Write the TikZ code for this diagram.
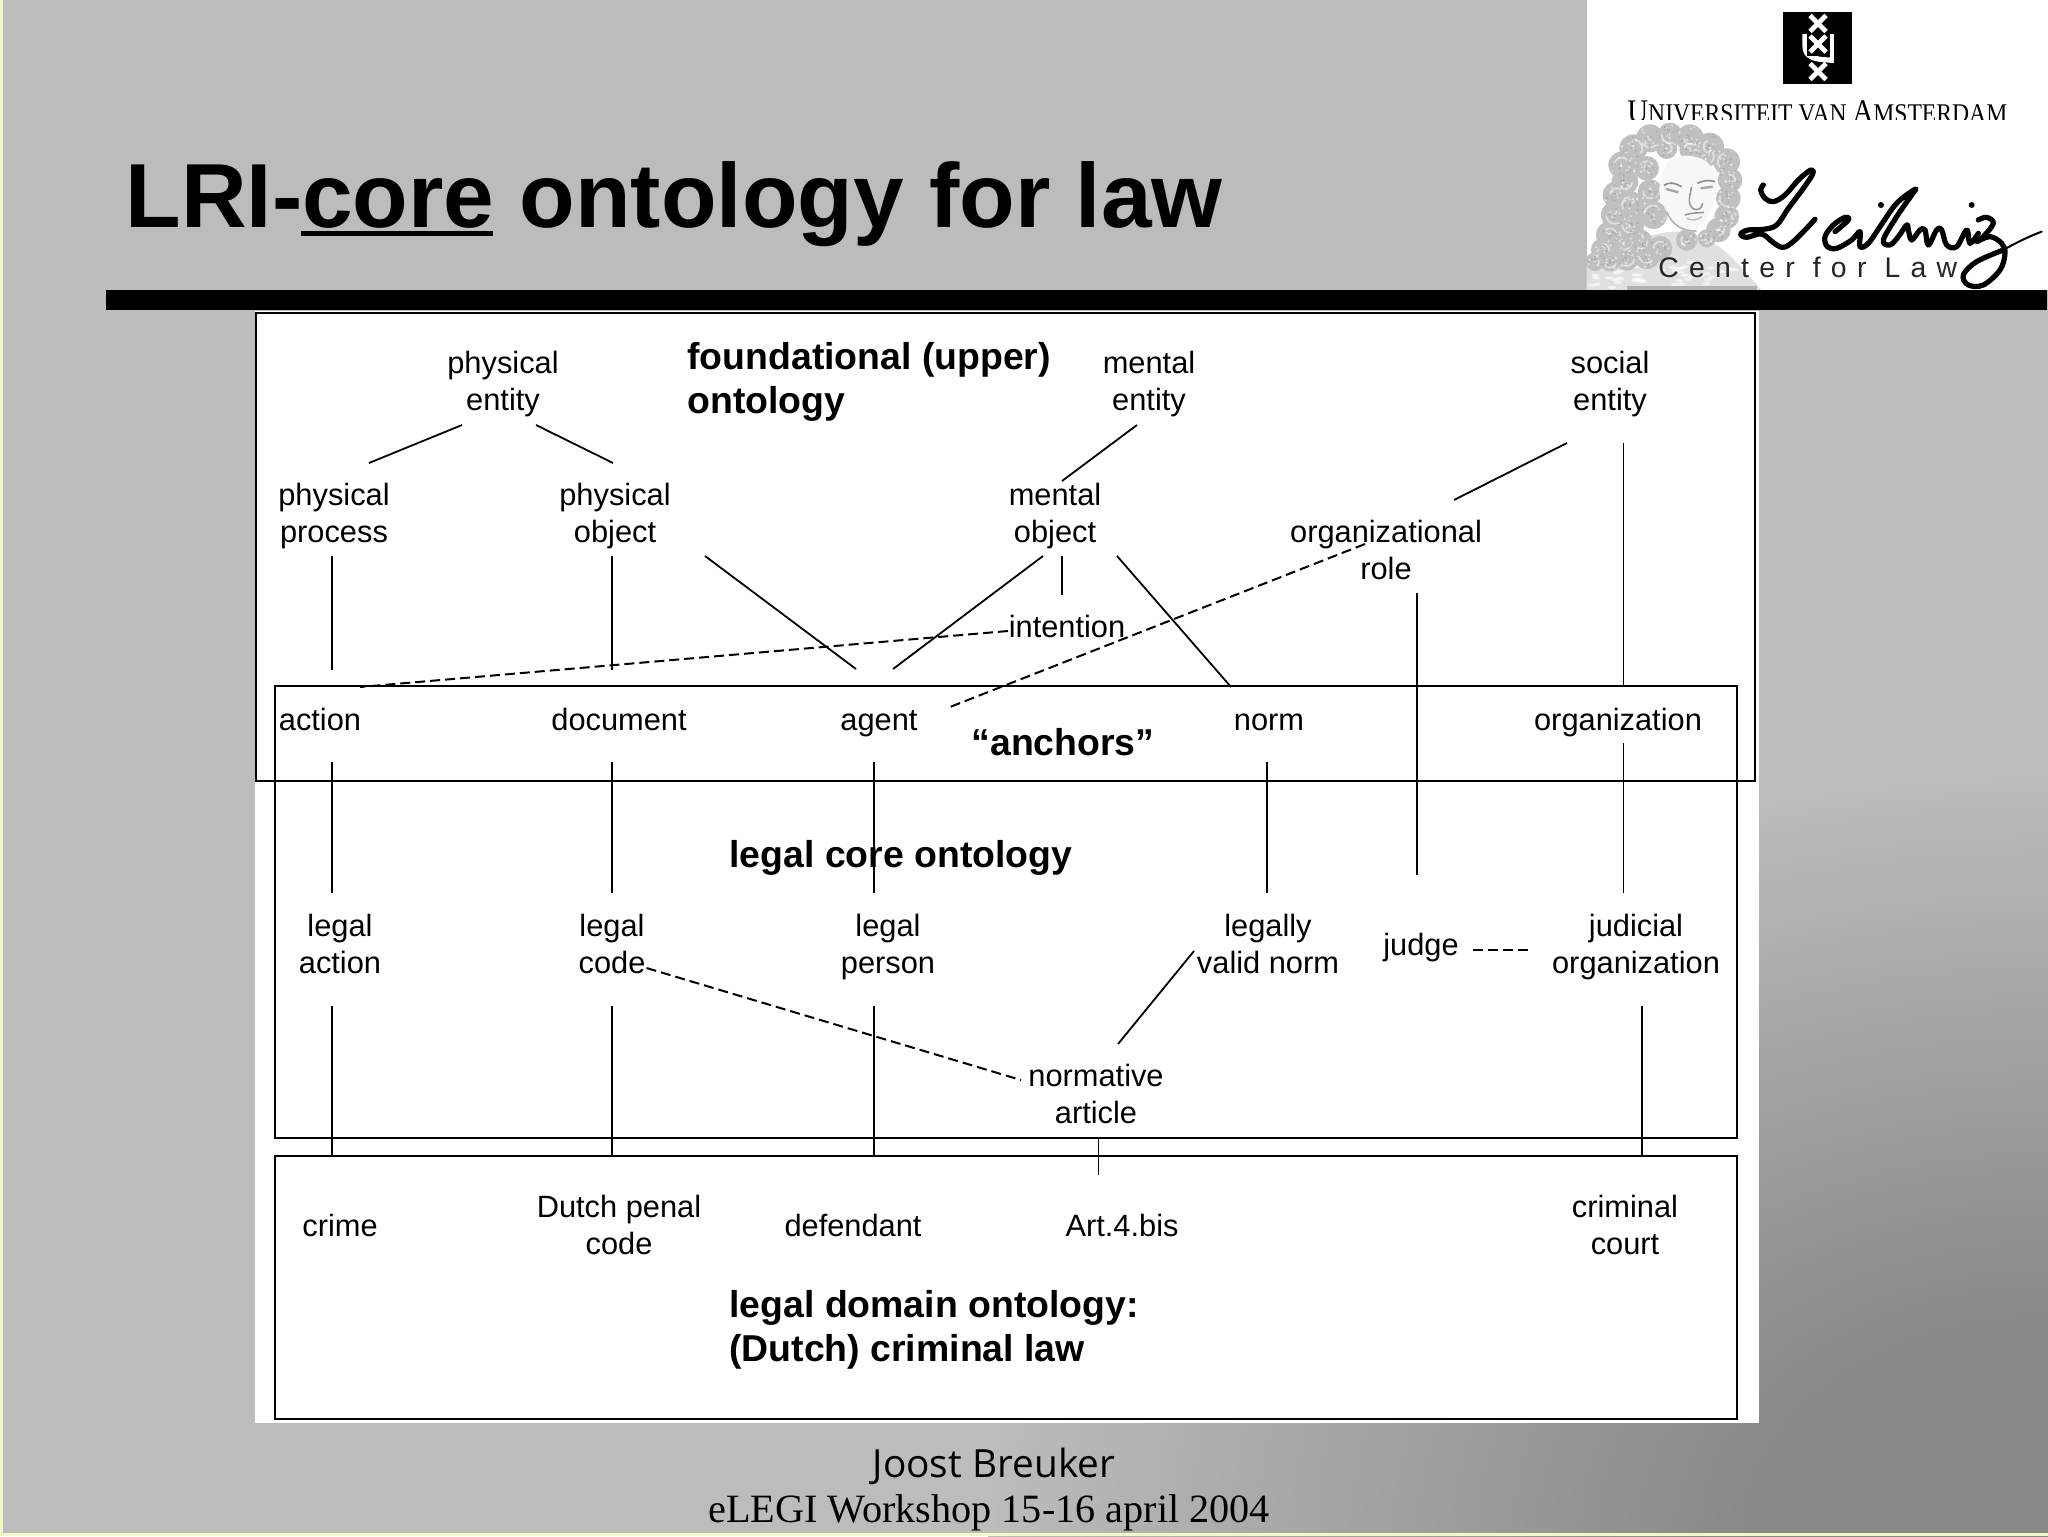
\documentclass[tikz,border=0pt]{standalone}
\usepackage{fontspec}
\setmainfont{Liberation Sans}
\newfontfamily\serifface{Liberation Serif}
\newfontfamily\footface{Open Sans}
\newfontfamily\centerface[LetterSpace=36]{Liberation Sans}
\definecolor{slidegray}{HTML}{BCBCBC}
\definecolor{slidedark}{HTML}{888888}
\definecolor{edgeyellow}{HTML}{F4F8C8}
\definecolor{wiggray}{HTML}{C0C0C0}
\pgfdeclareradialshading{slidecorner}{\pgfpoint{0bp}{0bp}}{color(0bp)=(slidedark); color(7bp)=(slidedark); color(25bp)=(slidegray); color(50bp)=(slidegray)}
\newcommand{\hd}{\rule{0pt}{15pt}}
\tikzset{
  lab/.style={font=\fontsize{15.4}{18.8}\selectfont, align=center, inner sep=0pt,
    execute at begin node={\rule[-4pt]{0pt}{19pt}}, execute at end node={\rule[-4pt]{0pt}{4pt}}},
  boldlab/.style={font=\bfseries\fontsize{18.7}{22}\selectfont, align=left, inner sep=0pt, anchor=west},
  boxline/.style={draw=black, line width=1pt},
  conn/.style={draw=black, line width=0.9pt},
  dashconn/.style={draw=black, line width=1pt, dash pattern=on 5pt off 2.5pt},
  ink/.style={draw=black, line width=2.6pt, line cap=round, line join=round}
}
\begin{document}
\begin{tikzpicture}[x=0.5pt,y=-0.5pt]
\useasboundingbox (0,0) rectangle (2048,1536);
% background
\fill[slidegray] (0,0) rectangle (2048,1536);
\begin{scope}
  \clip (0,0) rectangle (2048,1536);
  \shade[shading=slidecorner] (2048,1536) ellipse (1060 and 760);
\end{scope}
\fill[edgeyellow] (0,0) rectangle (3,1536);
\fill[edgeyellow] (0,1533) rectangle (2048,1536);
% title
\node[anchor=base west, inner sep=0pt, font=\bfseries\fontsize{45.5}{56}\selectfont] (title) at (125,227.5) {LRI-core ontology for law};
\fill[black] (301,231) rectangle (493,236);
% logo panel
\fill[white] (1587,0) rectangle (2048,290);
\fill[black] (1783,12) rectangle (1852,84);
\draw[white, line width=2.6pt] (1805,34) -- (1805,46) .. controls (1805,56) and (1812,60) .. (1832,60);
\draw[white, line width=1.8pt] (1832,34) -- (1832,63);
\fill[black] (1807,33) rectangle (1830,56);
\foreach \cy in {23.5,44,71.5}{
  \draw[white, line width=2.4pt] (1810,\cy-8) -- (1826,\cy+8);
  \draw[white, line width=2.4pt] (1826,\cy-8) -- (1810,\cy+8);
}
\begin{scope}
  \clip (1600,90) rectangle (2040,119.5);
  \node[anchor=base west, inner sep=0pt, xscale=0.875, transform shape, font=\serifface\fontsize{16.5}{20}\selectfont] (uva) at (1627,122) {U\fontsize{13.5}{20}\selectfont NIVERSITEIT VAN \fontsize{16.5}{20}\selectfont A\fontsize{13.5}{20}\selectfont MSTERDAM};
\end{scope}
% portrait
\begin{scope}[shift={(1590,115)},scale=0.3333]
  \begin{scope}
    \clip (-10,0) rectangle (520,525);
    % body
    \fill[black!12] plot[smooth cycle,tension=.6] coordinates {(-10,440) (60,400) (250,350) (380,390) (510,520) (500,530) (-10,530)};
    \pgfmathsetseed{11}
    \foreach \k in {1,...,60}{
      \pgfmathsetmacro{\rx}{rnd*450}
      \pgfmathsetmacro{\ry}{440+rnd*85}
      \fill[white,opacity=.6] (\rx,\ry) ellipse (12 and 5);
    }
    \fill[black!30] (110,512) rectangle (500,525);
    % wig curls
    \pgfmathsetseed{7}
    \foreach \cx/\cy/\cr in {180/70/42,240/60/37,300/70/42,360/95/42,410/140/40,420/195/37,415/250/37,410/305/37,385/345/37,
      130/100/42,95/150/40,105/200/40,80/240/42,120/270/42,75/300/42,120/330/42,60/360/42,105/385/42,40/405/37,150/380/37,170/420/42,110/430/37,210/400/37,190/300/42,180/230/37,170/160/37,230/100/32,300/105/32,350/125/32,290/375/32,350/370/27,15/440/28,60/440/30}{
      \fill[wiggray] (\cx,\cy) circle (\cr);
    }
    \foreach \cx/\cy/\cr in {180/70/42,240/60/37,300/70/42,360/95/42,410/140/40,420/195/37,415/250/37,410/305/37,385/345/37,
      130/100/42,95/150/40,105/200/40,80/240/42,120/270/42,75/300/42,120/330/42,60/360/42,105/385/42,40/405/37,150/380/37,170/420/42,110/430/37,210/400/37,190/300/42,180/230/37,170/160/37,230/100/32,300/105/32,350/125/32,290/375/32,350/370/27,15/440/28,60/440/30}{
      \pgfmathsetmacro{\rd}{(0.4+0.3*rnd)*\cr}
      \pgfmathsetmacro{\ra}{rnd*360}
      \draw[white,opacity=.5,line width=.9pt,line cap=round] (\cx,\cy) ++(\ra:\rd) arc (\ra:\ra+110:\rd);
      \foreach \s in {1,...,9}{
        \pgfmathsetmacro{\pa}{rnd*360}
        \pgfmathsetmacro{\pr}{rnd*0.85*\cr}
        \fill[white,opacity=.55] (\cx,\cy) ++(\pa:\pr) circle (3.5);
      }
      \foreach \s in {1,...,8}{
        \pgfmathsetmacro{\pa}{rnd*360}
        \pgfmathsetmacro{\pr}{rnd*0.85*\cr}
        \fill[black!40,opacity=.6] (\cx,\cy) ++(\pa:\pr) circle (3);
      }
    }
    % face
    \fill[black!3] plot[smooth cycle,tension=.6] coordinates {(235,140) (290,122) (350,140) (378,190) (375,245) (350,310) (310,348) (265,335) (225,280) (208,220)};
    \draw[black!45, line width=0.8pt] (222,212) .. controls (240,198) and (255,205) .. (275,215);
    \draw[black!45, line width=0.8pt] (322,205) .. controls (340,195) and (360,195) .. (375,200);
    \draw[black!35, line width=1.2pt] (228,222) -- (265,232);
    \draw[black!35, line width=1.2pt] (332,220) -- (368,215);
    \draw[black!40, line width=0.8pt] (305,215) .. controls (300,240) and (290,265) .. (310,282) .. controls (325,288) and (335,280) .. (338,265);
    \draw[black!40, line width=0.8pt] (285,300) .. controls (305,292) and (325,295) .. (342,292);
    \draw[black!25, line width=0.8pt] (290,310) .. controls (305,318) and (325,315) .. (335,305);
    \draw[black!30, line width=0.8pt] (230,290) .. controls (245,330) and (280,350) .. (320,348);
  \end{scope}
\end{scope}
\node[anchor=base west, inner sep=0pt, text=black!85, font=\centerface\fontsize{14.2}{16}\selectfont] (cfl) at (1658,277) {Center for Law};
% signature
\begin{scope}[shift={(1720,130)},scale=0.3333]
  \draw[ink] plot[smooth,tension=.6] coordinates {(130,165) (122,180) (135,205) (160,215) (195,195) (235,150) (272,120) (278,132) (250,175) (205,235) (170,285) (130,298) (85,300) (62,312) (80,322) (125,312) (160,338) (190,352) (225,330) (285,268)};
  \draw[ink] plot[smooth,tension=.6] coordinates {(345,305) (385,270) (375,262) (340,285) (315,320) (322,350) (350,355) (395,330) (420,305) (420,350) (445,340) (480,290) (530,220) (585,178) (575,195) (530,260) (490,330) (510,345) (535,320) (560,285) (565,300) (575,330) (600,300) (615,300) (625,345) (650,300) (665,300) (680,345) (710,350) (740,300) (750,340) (775,310)};
  \draw[ink] plot[smooth,tension=.6] coordinates {(775,270) (800,262) (820,280) (790,320) (770,335) (810,320) (845,340) (855,370) (840,420) (790,465) (745,465) (730,435) (770,395) (850,360)};
  \draw[draw=black, line width=1pt, line cap=round] (850,360) .. controls (885,340) and (925,320) .. (965,305);
  \fill[black] (483,225) circle (9);
  \fill[black] (755,225) circle (9);
\end{scope}
% bar
\fill[black] (106,290) rectangle (2047,310);
% panel
\fill[white] (255,311) rectangle (1758.5,1422.5);
\draw[boxline] (256,313) rectangle (1755,781);
\draw[boxline] (275,686) rectangle (1736.5,1138);
\draw[boxline] (275,1156) rectangle (1736.5,1419);
% nodes
\node[lab] (pe) at (503,381) {\hd physical\\entity};
\node[lab] (pp) at (334,513) {\hd physical\\process};
\node[lab] (po) at (615,513) {\hd physical\\object};
\node[lab] (me) at (1149,381) {\hd mental\\entity};
\node[lab] (se) at (1610,381) {\hd social\\entity};
\node[lab] (mo) at (1055,513) {\hd mental\\object};
\node[lab] (or) at (1386,550) {\hd organizational\\role};
\node[lab] (in) at (1067,626) {intention};
\node[lab] (act) at (320,719) {action};
\node[lab] (doc) at (619,719) {document};
\node[lab] (ag) at (879,719) {agent};
\node[lab] (nm) at (1269,719) {norm};
\node[lab] (org) at (1618,719) {organization};
\node[lab] (la) at (340,944) {\hd legal\\action};
\node[lab] (lc) at (612,944) {\hd legal\\code};
\node[lab] (lp) at (888,944) {\hd legal\\person};
\node[lab] (lv) at (1268,944) {\hd legally\\valid norm};
\node[lab] (jd) at (1421,944) {judge};
\node[lab] (jo) at (1636,944) {\hd judicial\\organization};
\node[lab] (na) at (1096,1094) {\hd normative\\article};
\node[lab] (cr) at (340,1225) {crime};
\node[lab] (dp) at (619,1225) {\hd Dutch penal\\code};
\node[lab] (df) at (853,1225) {defendant};
\node[lab] (art) at (1122,1225) {Art.4.bis};
\node[lab] (cc) at (1625,1225) {\hd criminal\\court};
\node[boldlab] (hf) at (687,382) {foundational (upper)\\ontology};
\node[boldlab,anchor=center] (ha) at (1063,742) {``anchors''};
\node[boldlab] (hl) at (729,858) {legal core ontology};
\node[boldlab] (hd) at (729,1330) {legal domain ontology:\\(Dutch) criminal law};
% connectors
\draw[conn] ([shift={(-41,44)}]pe.center) -- ([shift={(35,-50)}]pp.center);
\draw[conn] ([shift={(33,44)}]pe.center) -- ([shift={(-2,-50)}]po.center);
\draw[conn] ([shift={(-2,43)}]pp.center) -- ([shift={(12,-49)}]act.center);
\draw[conn] ([shift={(-3,43)}]po.center) -- ([shift={(-7,-49)}]doc.center);
\draw[conn] ([shift={(90,43)}]po.center) -- ([shift={(-23,-50)}]ag.center);
\draw[conn] ([shift={(-12,43)}]mo.center) -- ([shift={(14,-50)}]ag.center);
\draw[conn] ([shift={(-12,44)}]me.center) -- ([shift={(7,-32)}]mo.center);
\draw[conn] ([shift={(7,43)}]mo.center) -- ([shift={(-5,-31)}]in.center);
\draw[conn] ([shift={(62,43)}]mo.center) -- ([shift={(-38,-32)}]nm.center);
\draw[conn] ([shift={(-43,62)}]se.center) -- ([shift={(68,-50)}]or.center);
\draw[conn] ([shift={(13.5,62)}]se.center) -- ([shift={(5.5,-32)}]org.center);
\draw[conn] ([shift={(31,43)}]or.center) -- ([shift={(-4,-69)}]jd.center);
\draw[dashconn] ([shift={(-59,5)}]in.center) -- ([shift={(40,-32)}]act.center);
\draw[dashconn] ([shift={(-21,-6)}]or.center) -- ([shift={(71,-12)}]ag.center);
\draw[conn] ([shift={(12,43)}]act.center) -- ([shift={(-8,-51)}]la.center);
\draw[conn] ([shift={(-7,43)}]doc.center) -- ([shift={(0,-51)}]lc.center);
\draw[conn] ([shift={(-5,43)}]ag.center) -- ([shift={(-14,-51)}]lp.center);
\draw[conn] ([shift={(-2,43)}]nm.center) -- ([shift={(-1,-51)}]lv.center);
\draw[conn] ([shift={(5.5,24)}]org.center) -- ([shift={(-12.5,-51)}]jo.center);
\draw[conn] ([shift={(-8,62)}]la.center) -- ([shift={(-8,-69)}]cr.center);
\draw[conn] ([shift={(0,62)}]lc.center) -- ([shift={(-7,-69)}]dp.center);
\draw[conn] ([shift={(-14,62)}]lp.center) -- ([shift={(21,-69)}]df.center);
\draw[conn] ([shift={(6,62)}]jo.center) -- ([shift={(17,-69)}]cc.center);
\draw[conn] ([shift={(-74,7)}]lv.center) -- ([shift={(22,-50)}]na.center);
\draw[dashconn] ([shift={(34.5,24)}]lc.center) -- ([shift={(-75,-14)}]na.center);
\draw[dashconn] ([shift={(52,5.5)}]jd.center) -- ([shift={(-105,5.5)}]jo.center);
\draw[conn] ([shift={(2.5,44)}]na.center) -- ([shift={(-23.5,-50)}]art.center);
% footer
\node[inner sep=0pt, font=\footface\fontsize{19.4}{22}\selectfont] (ft1) at (994,1466) {Joost Breuker};
\node[inner sep=0pt, font=\serifface\fontsize{20.1}{22}\selectfont] (ft2) at (989,1513) {eLEGI Workshop 15-16 april 2004};
\end{tikzpicture}
\end{document}
